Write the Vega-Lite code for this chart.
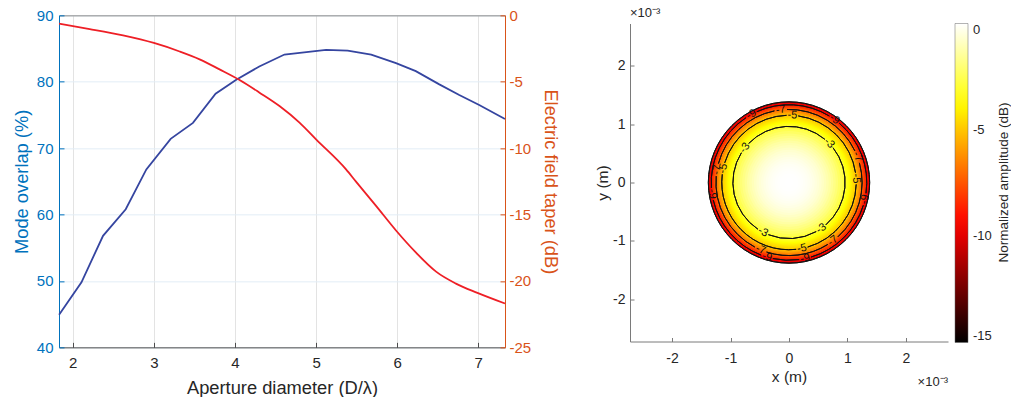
{
  "$schema": "https://vega.github.io/schema/vega-lite/v6.json",
  "padding": {"left": 12, "top": 6, "right": 0, "bottom": 0},
  "spacing": 35,
  "center": true,
  "config": {
    "view": {"stroke": null},
    "font": "Liberation Sans",
    "axis": {"labelColor": "#262626", "titleColor": "#262626", "titleFontWeight": "normal", "domainColor": "#7a7a7a", "ticks": true, "tickSize": -5, "tickColor": "#7a7a7a", "labelExpr": "'' + datum.value"}
  },
  "resolve": {"scale": {"color": "independent"}},
  "datasets": {
    "overlap": [
      {"d": 1.831, "v": 44.9}, {"d": 2.107, "v": 49.8}, {"d": 2.373, "v": 56.8}, {"d": 2.653, "v": 60.8},
      {"d": 2.907, "v": 66.8}, {"d": 3.207, "v": 71.4}, {"d": 3.482, "v": 73.8}, {"d": 3.761, "v": 78.2},
      {"d": 4.016, "v": 80.3}, {"d": 4.3, "v": 82.3}, {"d": 4.61, "v": 84.1}, {"d": 5.124, "v": 84.8},
      {"d": 5.39, "v": 84.7}, {"d": 5.68, "v": 84.1}, {"d": 5.986, "v": 82.8}, {"d": 6.23, "v": 81.6},
      {"d": 6.52, "v": 79.6}, {"d": 6.766, "v": 78.0}, {"d": 7.012, "v": 76.5}, {"d": 7.33, "v": 74.4}
    ],
    "taper": [
      {"d": 1.831, "v": -0.63}, {"d": 2.209, "v": -1.03}, {"d": 2.62, "v": -1.51}, {"d": 3.0, "v": -2.08},
      {"d": 3.318, "v": -2.72}, {"d": 3.564, "v": -3.31}, {"d": 3.81, "v": -4.07}, {"d": 4.057, "v": -4.87},
      {"d": 4.303, "v": -5.82}, {"d": 4.549, "v": -6.83}, {"d": 4.796, "v": -8.08}, {"d": 5.0, "v": -9.34},
      {"d": 5.37, "v": -11.6}, {"d": 5.49, "v": -12.5}, {"d": 5.74, "v": -14.35}, {"d": 5.986, "v": -16.2},
      {"d": 6.23, "v": -17.85}, {"d": 6.48, "v": -19.3}, {"d": 6.725, "v": -20.2}, {"d": 6.99, "v": -20.9},
      {"d": 7.33, "v": -21.7}
    ],
    "disks": [
      {"r": 1.38, "db": -10.2}, {"r": 1.36, "db": -9.6}, {"r": 1.34, "db": -9.0}, {"r": 1.32, "db": -8.5},
      {"r": 1.30, "db": -8.0}, {"r": 1.28, "db": -7.5}, {"r": 1.26, "db": -7.0}, {"r": 1.24, "db": -6.6},
      {"r": 1.22, "db": -6.2}, {"r": 1.20, "db": -5.8}, {"r": 1.18, "db": -5.4}, {"r": 1.16, "db": -5.0},
      {"r": 1.14, "db": -4.79}, {"r": 1.12, "db": -4.58}, {"r": 1.10, "db": -4.37}, {"r": 1.08, "db": -4.16},
      {"r": 1.06, "db": -3.95}, {"r": 1.04, "db": -3.74}, {"r": 1.02, "db": -3.53}, {"r": 1.00, "db": -3.32},
      {"r": 0.98, "db": -3.11}, {"r": 0.96, "db": -2.85}, {"r": 0.92, "db": -2.55}, {"r": 0.88, "db": -2.28},
      {"r": 0.84, "db": -2.02}, {"r": 0.80, "db": -1.79}, {"r": 0.76, "db": -1.57}, {"r": 0.72, "db": -1.36},
      {"r": 0.68, "db": -1.18}, {"r": 0.64, "db": -1.01}, {"r": 0.60, "db": -0.85}, {"r": 0.56, "db": -0.71},
      {"r": 0.52, "db": -0.59}, {"r": 0.48, "db": -0.48}, {"r": 0.44, "db": -0.38}, {"r": 0.40, "db": -0.30},
      {"r": 0.36, "db": -0.22}, {"r": 0.32, "db": -0.16}, {"r": 0.28, "db": -0.12}, {"r": 0.24, "db": -0.08},
      {"r": 0.20, "db": -0.05}, {"r": 0.16, "db": -0.02}, {"r": 0.12, "db": -0.01}, {"r": 0.08, "db": 0},
      {"r": 0.04, "db": 0}
    ],
    "contours": [
      {"lvl": "-3", "r": 0.96, "a0": 51.7, "a1": 139}, {"lvl": "-3", "r": 0.96, "a0": 151, "a1": 201.6},
      {"lvl": "-3", "r": 0.96, "a0": 213.6, "a1": 302}, {"lvl": "-3", "r": 0.96, "a0": 314, "a1": 399.7},
      {"lvl": "-5", "r": 1.15, "a0": 7.9, "a1": 81.6}, {"lvl": "-5", "r": 1.15, "a0": 91.6, "a1": 163.9},
      {"lvl": "-5", "r": 1.15, "a0": 173.9, "a1": 277}, {"lvl": "-5", "r": 1.15, "a0": 287, "a1": 357.9},
      {"lvl": "-7", "r": 1.25, "a0": 74.4, "a1": 138}, {"lvl": "-7", "r": 1.25, "a0": 148, "a1": 197.9},
      {"lvl": "-7", "r": 1.25, "a0": 207.9, "a1": 275}, {"lvl": "-7", "r": 1.25, "a0": 285, "a1": 348.5},
      {"lvl": "-7", "r": 1.25, "a0": 358.5, "a1": 424.4},
      {"lvl": "-9", "r": 1.33, "a0": 40.3, "a1": 98}, {"lvl": "-9", "r": 1.33, "a0": 107, "a1": 163.5},
      {"lvl": "-9", "r": 1.33, "a0": 172.5, "a1": 192}, {"lvl": "-9", "r": 1.33, "a0": 201, "a1": 257},
      {"lvl": "-9", "r": 1.33, "a0": 266, "a1": 326.5}, {"lvl": "-9", "r": 1.33, "a0": 335.5, "a1": 391.3},
      {"lvl": "edge", "r": 1.38, "a0": 0, "a1": 360}
    ],
    "labels": [
      {"lab": "-3", "r": 0.96, "a": 45.7}, {"lab": "-3", "r": 0.96, "a": 145}, {"lab": "-3", "r": 0.96, "a": 207.6}, {"lab": "-3", "r": 0.96, "a": 308},
      {"lab": "-5", "r": 1.15, "a": 2.9}, {"lab": "-5", "r": 1.15, "a": 86.6}, {"lab": "-5", "r": 1.15, "a": 168.9}, {"lab": "-5", "r": 1.15, "a": 282},
      {"lab": "-7", "r": 1.25, "a": 353.5}, {"lab": "-7", "r": 1.25, "a": 69.4}, {"lab": "-7", "r": 1.25, "a": 143}, {"lab": "-7", "r": 1.25, "a": 202.9}, {"lab": "-7", "r": 1.25, "a": 280},
      {"lab": "-9", "r": 1.33, "a": 35.8}, {"lab": "-9", "r": 1.33, "a": 102.5}, {"lab": "-9", "r": 1.33, "a": 168}, {"lab": "-9", "r": 1.33, "a": 196.5}, {"lab": "-9", "r": 1.33, "a": 261.5}, {"lab": "-9", "r": 1.33, "a": 331}
    ],
    "note": [{"t": "×10⁻³"}],
    "cbtitle": [{"t": "Normalized amplitude (dB)"}]
  },
  "hconcat": [
    {
      "width": 446,
      "height": 332,
      "layer": [
        {
          "data": {"name": "overlap"},
          "mark": {"type": "line", "color": "#3545a0", "strokeWidth": 1.8},
          "encoding": {
            "x": {"field": "d", "type": "quantitative",
              "scale": {"domain": [1.83, 7.33], "nice": false, "zero": false},
              "axis": {"title": "Aperture diameter (D/λ)", "values": [2, 3, 4, 5, 6, 7], "grid": true, "gridColor": "#e3e3e3",
                "domainColor": "#4d4d4d", "tickColor": "#4d4d4d", "labelFontSize": 15, "titleFontSize": 18.3, "labelPadding": 13, "titlePadding": 9}},
            "y": {"field": "v", "type": "quantitative",
              "scale": {"domain": [40, 90], "nice": false, "zero": false},
              "axis": {"orient": "left", "title": "Mode overlap (%)", "values": [40, 50, 60, 70, 80, 90], "grid": true, "gridColor": "#e2edf6",
                "domainColor": "#0072BD", "tickColor": "#0072BD", "labelColor": "#0072BD", "titleColor": "#0072BD", "labelFontSize": 15, "titleFontSize": 18.3,
                "labelPadding": 11, "titlePadding": 5}}
          }
        },
        {
          "data": {"name": "taper"},
          "mark": {"type": "line", "color": "#ee1f26", "strokeWidth": 1.8, "interpolate": "monotone"},
          "encoding": {
            "x": {"field": "d", "type": "quantitative",
              "axis": {"orient": "top", "labels": false, "ticks": false, "title": null, "grid": false, "domainColor": "#8a8a8a"}},
            "y": {"field": "v", "type": "quantitative",
              "scale": {"domain": [-25, 0], "nice": false, "zero": false},
              "axis": {"orient": "right", "title": "Electric field taper (dB)", "values": [-25, -20, -15, -10, -5, 0], "grid": false,
                "domainColor": "#D95319", "tickColor": "#D95319", "labelColor": "#D95319", "titleColor": "#D95319", "labelFontSize": 15, "titleFontSize": 18.3,
                "labelPadding": 9, "titlePadding": 9.5}}
          }
        }
      ],
      "resolve": {"scale": {"y": "independent"}, "axis": {"x": "independent"}}
    },
    {
      "width": 318,
      "height": 318,
      "title": {"text": "×10⁻³", "anchor": "start", "frame": "group", "fontSize": 13, "fontWeight": "normal", "offset": 4, "color": "#262626"},
      "layer": [
        {
          "data": {"name": "disks"},
          "mark": {"type": "arc", "theta": 0, "theta2": 6.283185},
          "encoding": {
            "radius": {"field": "r", "type": "quantitative", "stack": null, "scale": {"type": "linear", "domain": [0, 2.72], "range": [0, 159], "zero": true}},
            "color": {"field": "db", "type": "quantitative",
              "scale": {"type": "linear", "domain": [-15, -9.375, -3.75, 0], "range": ["#000000", "#ff0000", "#ffff00", "#ffffff"], "interpolate": "rgb", "clamp": true},
              "legend": {"orient": "right", "direction": "vertical", "offset": 7, "padding": 0, "gradientLength": 319, "gradientThickness": 13,
                "values": [0, -5, -10, -15], "title": null, "labelExpr": "'' + datum.value",
                "labelFontSize": 13, "labelColor": "#262626", "labelOffset": 5, "labelBaseline": "middle", "labelOverlap": false,
                "gradientStrokeColor": "#666666", "gradientStrokeWidth": 0.5}}
          }
        },
        {
          "data": {"name": "contours"},
          "mark": {"type": "arc", "filled": false, "stroke": "#111111", "strokeWidth": 1},
          "encoding": {
            "radius": {"field": "r", "type": "quantitative", "stack": null},
            "radius2": {"field": "r"},
            "theta": {"field": "a0", "type": "quantitative", "stack": null, "scale": {"type": "linear", "domain": [0, 360], "range": [0, 6.283185]}},
            "theta2": {"field": "a1"}
          }
        },
        {
          "data": {"name": "labels"},
          "mark": {"type": "text", "fontSize": 11, "color": "#111111", "align": "center", "baseline": "middle"},
          "encoding": {
            "radius": {"field": "r", "type": "quantitative", "stack": null},
            "theta": {"field": "a", "type": "quantitative", "stack": null},
            "angle": {"field": "a", "type": "quantitative", "scale": {"type": "linear", "domain": [0, 90, 90.01, 270, 270.01, 360], "range": [0, 90, -90, 90, -90, 0]}},
            "text": {"field": "lab"}
          }
        },
        {
          "data": {"name": "cbtitle"},
          "mark": {"type": "text", "fontSize": 13.5, "color": "#262626", "align": "center", "baseline": "middle", "angle": 270, "dy": 56},
          "encoding": {
            "x": {"datum": 2.72, "type": "quantitative"},
            "y": {"datum": 0, "type": "quantitative"},
            "text": {"field": "t"}
          }
        },
        {
          "data": {"name": "note"},
          "mark": {"type": "text", "fontSize": 13, "color": "#262626", "align": "right", "baseline": "middle", "dy": 40},
          "encoding": {
            "x": {"datum": 2.72, "type": "quantitative", "scale": {"domain": [-2.72, 2.72], "nice": false, "zero": false},
              "axis": {"title": "x (m)", "values": [-2, -1, 0, 1, 2], "grid": false, "tickSize": -4, "labelFontSize": 14, "titleFontSize": 15.5, "labelPadding": 14, "titlePadding": 4}},
            "y": {"datum": -2.72, "type": "quantitative", "scale": {"domain": [-2.72, 2.72], "nice": false, "zero": false},
              "axis": {"title": "y (m)", "values": [-2, -1, 0, 1, 2], "grid": false, "tickSize": -4, "labelFontSize": 14, "titleFontSize": 15.5, "labelPadding": 9, "titlePadding": 2}},
            "text": {"field": "t"}
          }
        }
      ]
    }
  ]
}
